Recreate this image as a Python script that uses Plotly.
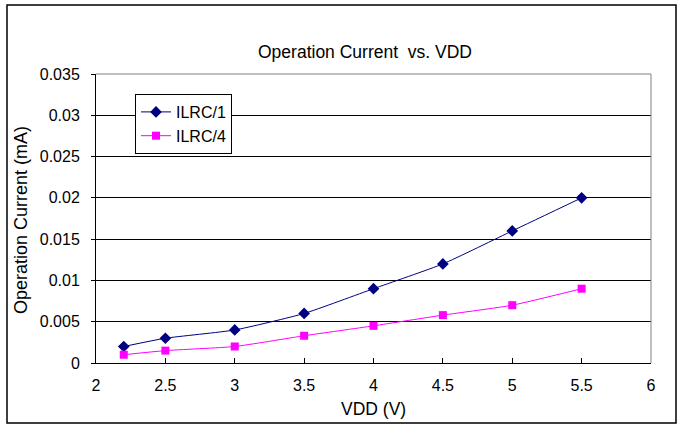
import plotly.graph_objects as go

vdd = [2.2, 2.5, 3.0, 3.5, 4.0, 4.5, 5.0, 5.5]
ilrc1 = [0.002, 0.003, 0.004, 0.006, 0.009, 0.012, 0.016, 0.020]
ilrc4 = [0.001, 0.0015, 0.002, 0.0033, 0.0045, 0.0058, 0.007, 0.009]
x_ticks = [2, 2.5, 3, 3.5, 4, 4.5, 5, 5.5, 6]
x_tick_labels = ["2", "2.5", "3", "3.5", "4", "4.5", "5", "5.5", "6"]
y_ticks = [0, 0.005, 0.01, 0.015, 0.02, 0.025, 0.03, 0.035]
y_tick_labels = ["0", "0.005", "0.01", "0.015", "0.02", "0.025", "0.03", "0.035"]

W, H = 682, 428
L, R, T, B = 96, 31, 74, 65
pw, ph = W - L - R, H - T - B

def px(xp):
    return (xp - L) / pw

def py(yp):
    return (H - B - yp) / ph

font = "Liberation Sans, Arial, sans-serif"

fig = go.Figure()
fig.add_trace(go.Scatter(
    x=vdd, y=ilrc1, name="ILRC/1", mode="lines+markers",
    line=dict(color="#000080", width=1, shape="spline", smoothing=0.5),
    marker=dict(symbol="diamond", size=9, color="#000080"),
))
fig.add_trace(go.Scatter(
    x=vdd, y=ilrc4, name="ILRC/4", mode="lines+markers",
    line=dict(color="#FF00FF", width=1, shape="spline", smoothing=0.5),
    marker=dict(symbol="square", size=8, color="#FF00FF"),
))

fig.update_layout(
    width=W, height=H,
    margin=dict(l=L, r=R, t=T, b=B),
    paper_bgcolor="white", plot_bgcolor="white",
    font=dict(family=font, size=16, color="black"),
    showlegend=True,
    legend=dict(
        x=px(135), y=py(94), xanchor="left", yanchor="top",
        bgcolor="white", bordercolor="black", borderwidth=1,
        font=dict(size=16, family=font), tracegroupgap=0,
        itemwidth=30,
    ),
    xaxis=dict(
        range=[2, 6], tickvals=x_ticks, ticktext=x_tick_labels,
        showgrid=False, zeroline=False,
        showline=True, linecolor="black", linewidth=1,
        ticks="inside", ticklen=5, tickcolor="black",
        tickfont=dict(size=16), ticklabelstandoff=8,
    ),
    yaxis=dict(
        range=[0, 0.035], tickvals=y_ticks, ticktext=y_tick_labels,
        showgrid=True, gridcolor="black", gridwidth=1,
        zeroline=False,
        showline=True, linecolor="black", linewidth=1,
        ticks="outside", ticklen=4, tickcolor="black",
        tickfont=dict(size=16), ticklabelstandoff=8,
    ),
    shapes=[
        dict(type="line", xref="paper", yref="paper", x0=0, x1=1, y0=1, y1=1,
             line=dict(color="#808080", width=1)),
        dict(type="line", xref="paper", yref="paper", x0=1, x1=1, y0=0, y1=1,
             line=dict(color="#808080", width=1)),
        dict(type="rect", xref="paper", yref="paper",
             x0=px(7), x1=px(676), y0=py(423), y1=py(5),
             line=dict(color="black", width=1.5), fillcolor="rgba(0,0,0,0)"),
    ],
    annotations=[
        dict(text="Operation Current  vs. VDD", xref="paper", yref="paper",
             x=px(365), y=py(52), xanchor="center", yanchor="middle",
             showarrow=False, font=dict(size=17.5, family=font)),
        dict(text="VDD (V)", xref="paper", yref="paper",
             x=px(373), y=py(409), xanchor="center", yanchor="middle",
             showarrow=False, font=dict(size=17.5, family=font)),
        dict(text="Operation Current (mA)", xref="paper", yref="paper",
             x=px(21), y=py(220), xanchor="center", yanchor="middle",
             textangle=-90, showarrow=False, font=dict(size=18, family=font)),
    ],
)

fig.write_html(
    "out.html",
    config={"displayModeBar": False},
    post_script="document.body.style.margin='0';document.body.style.overflow='hidden';",
)
